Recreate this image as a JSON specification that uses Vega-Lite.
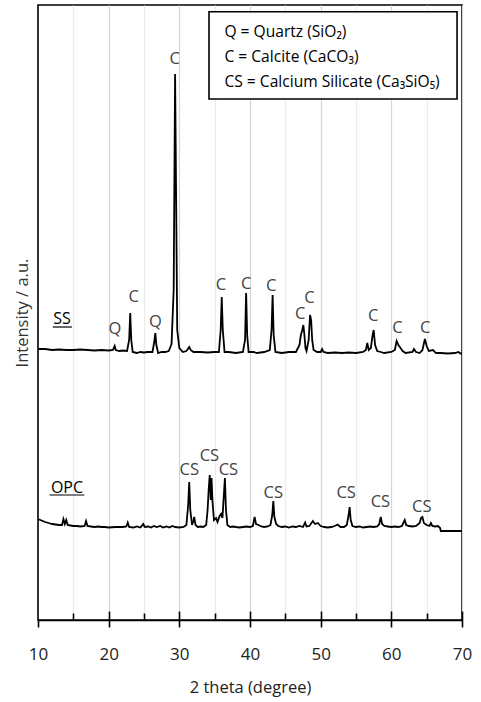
{
  "$schema": "https://vega.github.io/schema/vega-lite/v6.json",
  "width": 424,
  "height": 615,
  "autosize": {"type": "none"},
  "padding": {"left": 38, "top": 5, "right": 19, "bottom": 82},
  "background": "white",
  "config": {
    "view": {"stroke": "black", "strokeWidth": 1.6},
    "font": "Open Sans",
    "axis": {"labelFont": "Open Sans", "titleFont": "Open Sans", "titleFontWeight": "normal"},
    "axisY": {
      "grid": false, "ticks": false, "labels": false, "domain": false,
      "titleFontSize": 16.5, "titleColor": "#333333", "titlePadding": 8
    }
  },
  "datasets": {
    "ss": [
      {"theta": 10.0, "intensity": 271}, {"theta": 11.0, "intensity": 271}, {"theta": 12.0, "intensity": 270},
      {"theta": 13.0, "intensity": 270.5}, {"theta": 14.0, "intensity": 270}, {"theta": 15.0, "intensity": 270},
      {"theta": 16.0, "intensity": 270.5}, {"theta": 17.0, "intensity": 270}, {"theta": 18.0, "intensity": 269.5},
      {"theta": 19.0, "intensity": 270}, {"theta": 20.0, "intensity": 269.5}, {"theta": 20.6, "intensity": 270},
      {"theta": 20.85, "intensity": 274}, {"theta": 21.0, "intensity": 270}, {"theta": 21.5, "intensity": 269},
      {"theta": 22.0, "intensity": 269.5}, {"theta": 22.6, "intensity": 269}, {"theta": 22.9, "intensity": 280},
      {"theta": 23.05, "intensity": 307}, {"theta": 23.2, "intensity": 280}, {"theta": 23.4, "intensity": 268},
      {"theta": 24.0, "intensity": 267}, {"theta": 24.5, "intensity": 268}, {"theta": 25.0, "intensity": 267.5},
      {"theta": 25.5, "intensity": 268}, {"theta": 26.2, "intensity": 268}, {"theta": 26.45, "intensity": 278},
      {"theta": 26.6, "intensity": 287}, {"theta": 26.75, "intensity": 275}, {"theta": 27.0, "intensity": 267},
      {"theta": 27.5, "intensity": 268}, {"theta": 28.0, "intensity": 268}, {"theta": 28.5, "intensity": 269},
      {"theta": 28.9, "intensity": 276}, {"theta": 29.2, "intensity": 330}, {"theta": 29.4, "intensity": 546},
      {"theta": 29.55, "intensity": 420}, {"theta": 29.7, "intensity": 290}, {"theta": 30.0, "intensity": 272},
      {"theta": 30.5, "intensity": 268}, {"theta": 31.0, "intensity": 269}, {"theta": 31.4, "intensity": 273},
      {"theta": 31.6, "intensity": 270}, {"theta": 32.0, "intensity": 268}, {"theta": 33.0, "intensity": 268},
      {"theta": 34.0, "intensity": 267.5}, {"theta": 35.0, "intensity": 268}, {"theta": 35.6, "intensity": 268},
      {"theta": 35.85, "intensity": 290}, {"theta": 36.0, "intensity": 323}, {"theta": 36.15, "intensity": 290},
      {"theta": 36.4, "intensity": 268}, {"theta": 37.0, "intensity": 268}, {"theta": 38.0, "intensity": 267},
      {"theta": 39.0, "intensity": 268}, {"theta": 39.3, "intensity": 280}, {"theta": 39.45, "intensity": 327},
      {"theta": 39.6, "intensity": 285}, {"theta": 39.8, "intensity": 268}, {"theta": 40.5, "intensity": 268},
      {"theta": 41.0, "intensity": 267}, {"theta": 42.0, "intensity": 268}, {"theta": 42.8, "intensity": 270},
      {"theta": 43.05, "intensity": 290}, {"theta": 43.2, "intensity": 325}, {"theta": 43.35, "intensity": 285},
      {"theta": 43.6, "intensity": 268}, {"theta": 44.5, "intensity": 267}, {"theta": 45.5, "intensity": 268},
      {"theta": 46.5, "intensity": 268}, {"theta": 47.0, "intensity": 275}, {"theta": 47.2, "intensity": 285},
      {"theta": 47.4, "intensity": 290}, {"theta": 47.55, "intensity": 295}, {"theta": 47.7, "intensity": 285},
      {"theta": 47.85, "intensity": 272}, {"theta": 48.0, "intensity": 269}, {"theta": 48.3, "intensity": 280},
      {"theta": 48.5, "intensity": 305}, {"theta": 48.65, "intensity": 300}, {"theta": 48.8, "intensity": 280},
      {"theta": 49.0, "intensity": 270}, {"theta": 49.5, "intensity": 268}, {"theta": 50.0, "intensity": 268},
      {"theta": 50.2, "intensity": 271}, {"theta": 50.4, "intensity": 268}, {"theta": 51.0, "intensity": 267},
      {"theta": 52.0, "intensity": 267.5}, {"theta": 53.0, "intensity": 267}, {"theta": 54.0, "intensity": 267.5},
      {"theta": 55.0, "intensity": 267}, {"theta": 56.0, "intensity": 268}, {"theta": 56.4, "intensity": 270},
      {"theta": 56.6, "intensity": 277}, {"theta": 56.8, "intensity": 270}, {"theta": 57.1, "intensity": 272},
      {"theta": 57.35, "intensity": 285}, {"theta": 57.5, "intensity": 290}, {"theta": 57.7, "intensity": 275},
      {"theta": 58.0, "intensity": 269}, {"theta": 58.5, "intensity": 268}, {"theta": 59.0, "intensity": 267},
      {"theta": 60.0, "intensity": 268}, {"theta": 60.5, "intensity": 270}, {"theta": 60.75, "intensity": 279},
      {"theta": 61.0, "intensity": 275}, {"theta": 61.3, "intensity": 272}, {"theta": 61.6, "intensity": 269},
      {"theta": 62.0, "intensity": 267}, {"theta": 63.0, "intensity": 268}, {"theta": 63.2, "intensity": 271},
      {"theta": 63.5, "intensity": 268}, {"theta": 64.0, "intensity": 267}, {"theta": 64.4, "intensity": 270},
      {"theta": 64.75, "intensity": 281}, {"theta": 65.0, "intensity": 274}, {"theta": 65.3, "intensity": 269},
      {"theta": 65.9, "intensity": 270}, {"theta": 66.3, "intensity": 267}, {"theta": 67.0, "intensity": 267},
      {"theta": 68.0, "intensity": 266.5}, {"theta": 69.0, "intensity": 267}, {"theta": 69.5, "intensity": 268},
      {"theta": 69.8, "intensity": 266.5}, {"theta": 70.0, "intensity": 266.5}
    ],
    "opc": [
      {"theta": 10.0, "intensity": 101}, {"theta": 10.5, "intensity": 99.5}, {"theta": 11.0, "intensity": 98},
      {"theta": 11.5, "intensity": 97}, {"theta": 12.0, "intensity": 96}, {"theta": 12.5, "intensity": 95.5},
      {"theta": 13.0, "intensity": 95}, {"theta": 13.4, "intensity": 95}, {"theta": 13.6, "intensity": 101},
      {"theta": 13.8, "intensity": 96}, {"theta": 14.0, "intensity": 100}, {"theta": 14.2, "intensity": 95},
      {"theta": 14.6, "intensity": 94.5}, {"theta": 15.0, "intensity": 94}, {"theta": 15.5, "intensity": 94},
      {"theta": 16.0, "intensity": 93.5}, {"theta": 16.6, "intensity": 94}, {"theta": 16.8, "intensity": 99},
      {"theta": 17.0, "intensity": 94}, {"theta": 17.5, "intensity": 93.5}, {"theta": 18.0, "intensity": 93},
      {"theta": 18.5, "intensity": 93.5}, {"theta": 19.0, "intensity": 93}, {"theta": 19.5, "intensity": 93},
      {"theta": 20.0, "intensity": 92.5}, {"theta": 21.0, "intensity": 93}, {"theta": 22.0, "intensity": 93},
      {"theta": 22.5, "intensity": 93.5}, {"theta": 22.7, "intensity": 97.5}, {"theta": 22.9, "intensity": 93},
      {"theta": 23.5, "intensity": 92.5}, {"theta": 24.0, "intensity": 93.5}, {"theta": 24.5, "intensity": 92.5},
      {"theta": 24.9, "intensity": 96}, {"theta": 25.1, "intensity": 93}, {"theta": 25.6, "intensity": 93.5},
      {"theta": 26.0, "intensity": 92.5}, {"theta": 26.4, "intensity": 94}, {"theta": 26.8, "intensity": 93},
      {"theta": 27.3, "intensity": 94}, {"theta": 27.7, "intensity": 92.5}, {"theta": 28.2, "intensity": 93.5},
      {"theta": 28.6, "intensity": 92.5}, {"theta": 29.0, "intensity": 94}, {"theta": 29.4, "intensity": 93},
      {"theta": 30.0, "intensity": 92.5}, {"theta": 30.6, "intensity": 93}, {"theta": 31.0, "intensity": 95},
      {"theta": 31.25, "intensity": 115}, {"theta": 31.4, "intensity": 138}, {"theta": 31.55, "intensity": 110},
      {"theta": 31.8, "intensity": 95}, {"theta": 32.0, "intensity": 99}, {"theta": 32.1, "intensity": 103},
      {"theta": 32.3, "intensity": 95}, {"theta": 32.6, "intensity": 93}, {"theta": 33.0, "intensity": 93.5},
      {"theta": 33.4, "intensity": 93}, {"theta": 33.8, "intensity": 95}, {"theta": 34.0, "intensity": 110},
      {"theta": 34.15, "intensity": 130}, {"theta": 34.3, "intensity": 145}, {"theta": 34.45, "intensity": 120},
      {"theta": 34.55, "intensity": 142}, {"theta": 34.7, "intensity": 118}, {"theta": 34.9, "intensity": 100},
      {"theta": 35.2, "intensity": 102}, {"theta": 35.4, "intensity": 98}, {"theta": 35.7, "intensity": 104},
      {"theta": 35.9, "intensity": 106}, {"theta": 36.1, "intensity": 102}, {"theta": 36.3, "intensity": 125},
      {"theta": 36.45, "intensity": 142}, {"theta": 36.6, "intensity": 110}, {"theta": 36.8, "intensity": 95},
      {"theta": 37.2, "intensity": 93}, {"theta": 37.6, "intensity": 93.5}, {"theta": 38.0, "intensity": 93},
      {"theta": 38.5, "intensity": 92.5}, {"theta": 39.0, "intensity": 93}, {"theta": 39.5, "intensity": 93.5},
      {"theta": 40.0, "intensity": 93}, {"theta": 40.4, "intensity": 94}, {"theta": 40.65, "intensity": 103},
      {"theta": 40.85, "intensity": 96}, {"theta": 41.2, "intensity": 95}, {"theta": 41.6, "intensity": 93.5},
      {"theta": 42.0, "intensity": 93}, {"theta": 42.5, "intensity": 93.5}, {"theta": 42.9, "intensity": 95},
      {"theta": 43.15, "intensity": 105}, {"theta": 43.3, "intensity": 119}, {"theta": 43.45, "intensity": 103},
      {"theta": 43.7, "intensity": 96}, {"theta": 44.0, "intensity": 94}, {"theta": 44.5, "intensity": 93},
      {"theta": 45.0, "intensity": 93.5}, {"theta": 45.5, "intensity": 92.5}, {"theta": 46.0, "intensity": 93.5},
      {"theta": 46.5, "intensity": 93}, {"theta": 47.0, "intensity": 94}, {"theta": 47.5, "intensity": 93},
      {"theta": 47.8, "intensity": 97.5}, {"theta": 48.0, "intensity": 93.5}, {"theta": 48.4, "intensity": 94},
      {"theta": 48.9, "intensity": 99}, {"theta": 49.2, "intensity": 96}, {"theta": 49.6, "intensity": 97},
      {"theta": 50.0, "intensity": 94}, {"theta": 50.5, "intensity": 93}, {"theta": 51.0, "intensity": 92.5},
      {"theta": 51.5, "intensity": 93}, {"theta": 52.0, "intensity": 94}, {"theta": 52.4, "intensity": 95.5},
      {"theta": 52.8, "intensity": 93}, {"theta": 53.3, "intensity": 93}, {"theta": 53.7, "intensity": 95},
      {"theta": 53.95, "intensity": 105}, {"theta": 54.1, "intensity": 113}, {"theta": 54.25, "intensity": 100},
      {"theta": 54.5, "intensity": 94}, {"theta": 55.0, "intensity": 93}, {"theta": 55.5, "intensity": 93.5},
      {"theta": 56.0, "intensity": 92.5}, {"theta": 56.5, "intensity": 93}, {"theta": 57.0, "intensity": 93.5},
      {"theta": 57.5, "intensity": 93}, {"theta": 58.0, "intensity": 93.5}, {"theta": 58.3, "intensity": 96},
      {"theta": 58.5, "intensity": 103}, {"theta": 58.7, "intensity": 96}, {"theta": 59.0, "intensity": 94},
      {"theta": 59.5, "intensity": 93.5}, {"theta": 60.0, "intensity": 93}, {"theta": 60.5, "intensity": 93.5},
      {"theta": 61.0, "intensity": 93}, {"theta": 61.5, "intensity": 94}, {"theta": 61.9, "intensity": 100},
      {"theta": 62.1, "intensity": 95}, {"theta": 62.5, "intensity": 94}, {"theta": 63.0, "intensity": 93.5},
      {"theta": 63.5, "intensity": 94}, {"theta": 64.0, "intensity": 97}, {"theta": 64.2, "intensity": 102},
      {"theta": 64.4, "intensity": 103}, {"theta": 64.6, "intensity": 97}, {"theta": 65.0, "intensity": 95},
      {"theta": 65.4, "intensity": 94}, {"theta": 65.6, "intensity": 97}, {"theta": 65.8, "intensity": 94},
      {"theta": 66.2, "intensity": 93.5}, {"theta": 66.6, "intensity": 94}, {"theta": 66.9, "intensity": 92},
      {"theta": 67.0, "intensity": 89}, {"theta": 67.1, "intensity": 89}, {"theta": 70.0, "intensity": 89}
    ],
    "peaks": [
      {"theta": 20.9, "level": 291, "phase": "Q"},
      {"theta": 23.55, "level": 323, "phase": "C"},
      {"theta": 26.6, "level": 298, "phase": "Q"},
      {"theta": 29.35, "level": 561, "phase": "C"},
      {"theta": 35.9, "level": 335, "phase": "C"},
      {"theta": 39.45, "level": 336, "phase": "C"},
      {"theta": 43.0, "level": 334, "phase": "C"},
      {"theta": 47.1, "level": 306, "phase": "C"},
      {"theta": 48.4, "level": 322, "phase": "C"},
      {"theta": 57.45, "level": 304, "phase": "C"},
      {"theta": 60.85, "level": 292, "phase": "C"},
      {"theta": 64.8, "level": 292, "phase": "C"},
      {"theta": 31.4, "level": 150, "phase": "CS"},
      {"theta": 34.25, "level": 164, "phase": "CS"},
      {"theta": 36.95, "level": 150, "phase": "CS"},
      {"theta": 43.3, "level": 127, "phase": "CS"},
      {"theta": 53.6, "level": 127, "phase": "CS"},
      {"theta": 58.45, "level": 118, "phase": "CS"},
      {"theta": 64.3, "level": 113, "phase": "CS"}
    ],
    "samples": [
      {"theta": 13.4, "level": 301, "name": "SS", "from": 12.1, "to": 14.8, "under": 293},
      {"theta": 14.1, "level": 132.5, "name": "OPC", "from": 11.64, "to": 16.55, "under": 125}
    ],
    "keyBox": [
      {"x1": 34.2, "x2": 69.3, "y1": 521, "y2": 608.3}
    ],
    "keyLines": [
      {"theta": 36.38, "level": 588, "line": "Q = Quartz (SiO₂)"},
      {"theta": 36.38, "level": 563, "line": "C = Calcite (CaCO₃)"},
      {"theta": 36.38, "level": 538, "line": "CS = Calcium Silicate (Ca₃SiO₅)"}
    ]
  },
  "resolve": {"axis": {"x": "independent"}},
  "layer": [
    {
      "data": {"name": "ss"},
      "mark": {"type": "line", "color": "black", "strokeWidth": 1.8, "strokeJoin": "miter"},
      "encoding": {
        "x": {
          "field": "theta", "type": "quantitative",
          "scale": {"domain": [10, 70], "nice": false, "zero": false},
          "axis": {
            "orient": "bottom", "values": [10, 20, 30, 40, 50, 60, 70],
            "grid": false, "domain": true, "domainColor": "black", "domainWidth": 1.6,
            "tickSize": 7, "tickColor": "black", "tickWidth": 1.6,
            "labelPadding": 19, "labelFontSize": 17, "labelColor": "#222222", "labelFlush": false,
            "title": "2 theta (degree)", "titleFontSize": 16.5, "titleColor": "#222222", "titlePadding": 17
          }
        },
        "y": {
          "field": "intensity", "type": "quantitative", "title": "Intensity / a.u.",
          "scale": {"domain": [0, 615], "nice": false, "zero": false}
        }
      }
    },
    {
      "data": {"name": "opc"},
      "mark": {"type": "line", "color": "black", "strokeWidth": 1.8, "strokeJoin": "miter"},
      "encoding": {
        "x": {
          "field": "theta", "type": "quantitative",
          "axis": {
            "orient": "bottom", "values": [20, 30, 40, 50, 60, 70],
            "grid": true, "gridColor": "#d6d6d6", "gridWidth": 1.2,
            "domain": false, "labels": false, "title": null,
            "tickSize": -9, "tickColor": "black", "tickWidth": 1.6
          }
        },
        "y": {"field": "intensity", "type": "quantitative", "title": "Intensity / a.u."}
      }
    },
    {
      "data": {"name": "peaks"},
      "mark": {"type": "text", "fontSize": 16.5, "color": "#444444", "align": "center", "baseline": "middle"},
      "encoding": {
        "x": {
          "field": "theta", "type": "quantitative",
          "axis": {
            "orient": "bottom", "values": [15, 25, 35, 45, 55, 65],
            "grid": true, "gridColor": "#ebebeb", "gridWidth": 1.2,
            "domain": false, "labels": false, "title": null,
            "tickSize": -7, "tickColor": "black", "tickWidth": 1.6
          }
        },
        "y": {"field": "level", "type": "quantitative", "title": "Intensity / a.u."},
        "text": {"field": "phase"}
      }
    },
    {
      "data": {"name": "samples"},
      "mark": {"type": "text", "fontSize": 16, "color": "black", "align": "center", "baseline": "middle"},
      "encoding": {
        "x": {"field": "theta", "type": "quantitative", "axis": null},
        "y": {"field": "level", "type": "quantitative", "title": "Intensity / a.u."},
        "text": {"field": "name"}
      }
    },
    {
      "data": {"name": "samples"},
      "mark": {"type": "rule", "color": "black", "strokeWidth": 1.2},
      "encoding": {
        "x": {"field": "from", "type": "quantitative", "axis": null},
        "x2": {"field": "to"},
        "y": {"field": "under", "type": "quantitative", "title": "Intensity / a.u."}
      }
    },
    {
      "data": {"name": "keyBox"},
      "mark": {"type": "rect", "fill": "white", "stroke": "black", "strokeWidth": 1.6},
      "encoding": {
        "x": {"field": "x1", "type": "quantitative", "axis": null},
        "x2": {"field": "x2"},
        "y": {"field": "y1", "type": "quantitative", "title": "Intensity / a.u."},
        "y2": {"field": "y2"}
      }
    },
    {
      "data": {"name": "keyLines"},
      "mark": {"type": "text", "fontSize": 15.6, "color": "black", "align": "left", "baseline": "middle"},
      "encoding": {
        "x": {"field": "theta", "type": "quantitative", "axis": null},
        "y": {"field": "level", "type": "quantitative", "title": "Intensity / a.u."},
        "text": {"field": "line"}
      }
    }
  ]
}
